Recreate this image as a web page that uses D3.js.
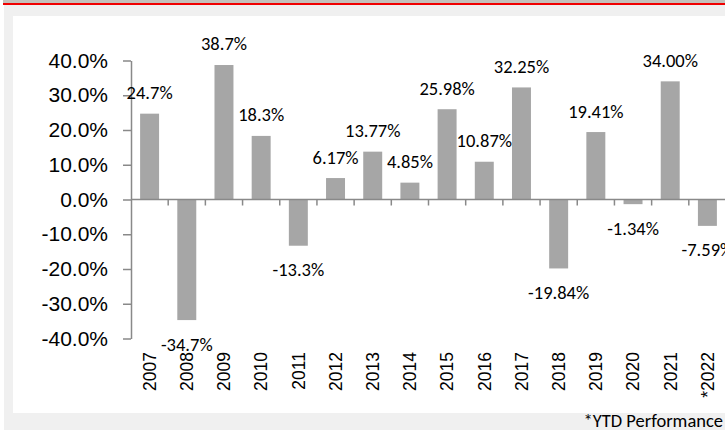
<!DOCTYPE html>
<html>
<head>
<meta charset="utf-8">
<script src="https://cdn.jsdelivr.net/npm/d3@7"></script>
<style>
  html, body { margin: 0; padding: 0; background: #fff; }
  svg { display: block; font-family: Carlito, Lato, "Open Sans", sans-serif; }
</style>
</head>
<body>
<div class="bar-chart"></div>
<script>
var years = ["2007", "2008", "2009", "2010", "2011", "2012", "2013", "2014",
  "2015", "2016", "2017", "2018", "2019", "2020", "2021", "2022"];
var yearLabels = ["2007", "2008", "2009", "2010", "2011", "2012", "2013", "2014",
  "2015", "2016", "2017", "2018", "2019", "2020", "2021", "*2022"];
var returns = [24.7, -34.7, 38.7, 18.3, -13.3, 6.17, 13.77, 4.85,
  25.98, 10.87, 32.25, -19.84, 19.41, -1.34, 34.00, -7.59];
var valueLabels = ["24.7%", "-34.7%", "38.7%", "18.3%", "-13.3%", "6.17%", "13.77%", "4.85%",
  "25.98%", "10.87%", "32.25%", "-19.84%", "19.41%", "-1.34%", "34.00%", "-7.59%"];
var yTicks = [40, 30, 20, 10, 0, -10, -20, -30, -40];
var footnote = "*YTD Performance";

var width = 725, height = 430;

var svg = d3.select(".bar-chart")
  .append("svg")
  .attr("width", width)
  .attr("height", height);

// page frame: top band, red rule, grey surround, white panel
svg.append("rect").attr("x", 3).attr("y", 0).attr("width", width).attr("height", 3).attr("fill", "#c4c1bb");
svg.append("rect").attr("x", 4).attr("y", 5).attr("width", width).attr("height", height - 5).attr("fill", "#f0f0f0");
svg.append("rect").attr("x", 3).attr("y", 3).attr("width", width).attr("height", 2).attr("fill", "#f00000");
svg.append("rect").attr("x", 13).attr("y", 16).attr("width", width).attr("height", 397).attr("fill", "#fff");

var data = years.map(function (yr, i) {
  return { year: yr, value: returns[i], label: valueLabels[i], tick: yearLabels[i] };
});

var x = d3.scaleBand()
  .domain(years)
  .range([131, 726])
  .paddingInner(0.49)
  .paddingOuter(0.245);

var y = d3.scaleLinear()
  .domain([-40, 40])
  .range([338.5, 60.5]);

var axisColor = "#898989";

/* ------- BARS -------*/
svg.append("g")
  .attr("class", "bars")
  .selectAll("rect")
  .data(data)
  .enter()
  .append("rect")
  .attr("x", function (d) { return x(d.year); })
  .attr("width", x.bandwidth())
  .attr("y", function (d) { return y(Math.max(0, d.value)); })
  .attr("height", function (d) { return Math.abs(y(d.value) - y(0)); })
  .attr("fill", "#a6a6a6");

/* ------- Y AXIS -------*/
var yAxis = svg.append("g")
  .attr("transform", "translate(131,0)")
  .call(d3.axisLeft(y)
    .tickValues(yTicks)
    .tickSize(8)
    .tickSizeOuter(0)
    .tickPadding(15)
    .tickFormat(function (d) { return d.toFixed(1) + "%"; }));
yAxis.select(".domain").attr("stroke", axisColor).attr("stroke-width", 1.5);
yAxis.selectAll(".tick line").attr("stroke", axisColor).attr("stroke-width", 1.5);
yAxis.selectAll(".tick text")
  .attr("fill", "#000")
  .style("font-size", "21px");

/* ------- ZERO LINE + CATEGORY TICKS -------*/
var zero = svg.append("g").attr("class", "zero-line");
zero.append("line")
  .attr("x1", 131).attr("x2", width)
  .attr("y1", y(0)).attr("y2", y(0))
  .attr("stroke", axisColor).attr("stroke-width", 1.5);
zero.selectAll("line.sep")
  .data(years.slice(1))
  .enter()
  .append("line")
  .attr("class", "sep")
  .attr("x1", function (d) { return x(d) - x.step() * x.paddingInner() / 2; })
  .attr("x2", function (d) { return x(d) - x.step() * x.paddingInner() / 2; })
  .attr("y1", y(0)).attr("y2", y(0) + 6)
  .attr("stroke", axisColor).attr("stroke-width", 1.5);

/* ------- YEAR LABELS -------*/
var xAxis = svg.append("g")
  .attr("transform", "translate(0,352)")
  .call(d3.axisBottom(x)
    .tickSize(0)
    .tickFormat(function (d, i) { return yearLabels[i]; }));
xAxis.select(".domain").remove();
xAxis.selectAll(".tick text")
  .attr("x", 0)
  .attr("y", 0)
  .attr("dy", "0.36em")
  .attr("transform", "rotate(-90)")
  .attr("text-anchor", "end")
  .attr("fill", "#000")
  .style("font-size", "17.5px");

/* ------- VALUE LABELS -------*/
svg.append("g")
  .attr("class", "labels")
  .selectAll("text")
  .data(data)
  .enter()
  .append("text")
  .attr("x", function (d) { return x(d.year) + x.bandwidth() / 2; })
  .attr("y", function (d) { return d.value >= 0 ? y(d.value) - 21 : y(d.value) + 24; })
  .attr("dy", "0.35em")
  .attr("text-anchor", "middle")
  .attr("fill", "#000")
  .style("font-size", "18.5px")
  .text(function (d) { return d.label; });

/* ------- FOOTNOTE -------*/
svg.append("text")
  .attr("x", 723)
  .attr("y", 427)
  .attr("text-anchor", "end")
  .attr("fill", "#000")
  .style("font-size", "18.5px")
  .text(footnote);
</script>
</body>
</html>
